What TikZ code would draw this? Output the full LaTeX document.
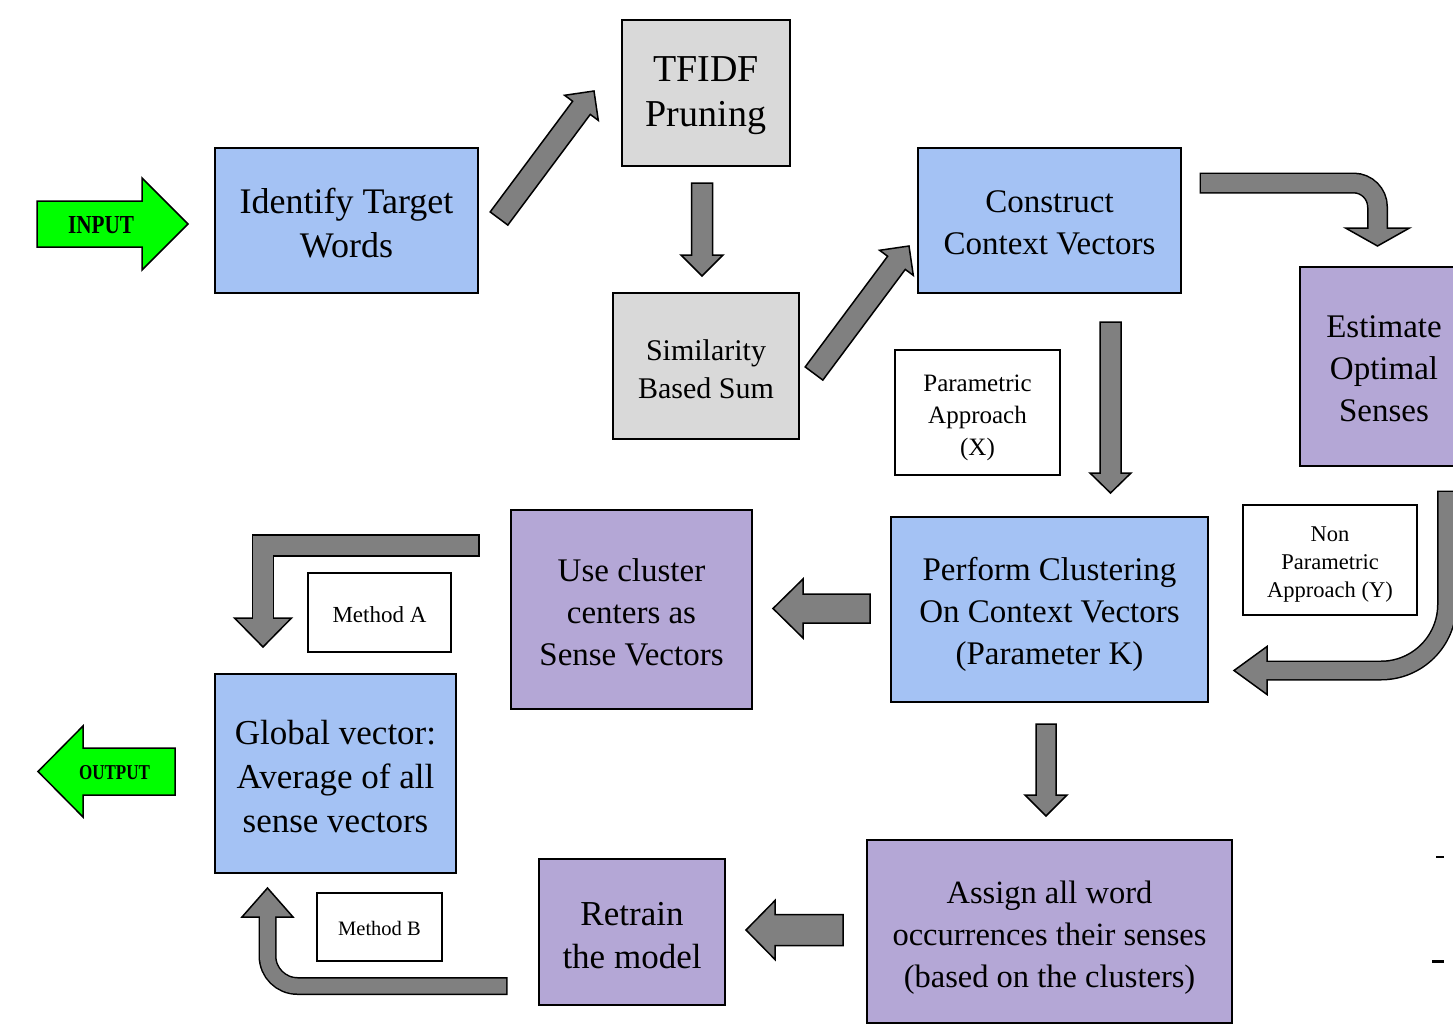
\documentclass[tikz,border=0pt]{standalone}
\usepackage{fontspec}
\usepackage{graphicx}
\setmainfont{Liberation Serif}
\usetikzlibrary{calc}
\definecolor{boxblue}{RGB}{164,194,244}
\definecolor{boxpurple}{RGB}{180,167,214}
\definecolor{boxgray}{RGB}{217,217,217}
\definecolor{arrgray}{RGB}{128,128,128}
\definecolor{arrgreen}{RGB}{0,255,0}
\newcommand{\fsz}[2]{\fontsize{#1}{#2}\selectfont}
% #1 style, #2 from, #3 to, #4 half body, #5 half head, #6 head length
\newcommand{\blockarr}[6]{%
  \coordinate (hb-#2) at ($(#3)!#6!(#2)$);
  \filldraw[#1] ($(#2)!#4!90:(#3)$) -- ($(hb-#2)!#4!90:(#3)$) -- ($(hb-#2)!#5!90:(#3)$) -- (#3)
     -- ($(hb-#2)!#5!-90:(#3)$) -- ($(hb-#2)!#4!-90:(#3)$) -- ($(#2)!#4!-90:(#3)$) -- cycle;
}
% name, position, width, height, fill, font, text shift, text
\newcommand{\tbox}[8]{%
  \node[box, fill=#5, minimum width=#3, minimum height=#4] (#1) at (#2) {};
  \node[txt, font=#6] (#1-text) at ([yshift=#7]#1.center) {#8};
}
\tikzset{
  box/.style={draw=black, line width=1.5pt, rectangle, inner sep=0pt},
  txt/.style={inner sep=0pt, align=center},
  barrow/.style={fill=arrgray, draw=black, line width=1.5pt, line join=miter},
  garrow/.style={fill=arrgreen, draw=black, line width=1.5pt, line join=miter},
}
\begin{document}
\begin{tikzpicture}[x=1pt,y=-1pt]
\useasboundingbox (0,0) rectangle (1453,1025);
\clip (0,0) rectangle (1453,1025);
\fill[white] (0,0) rectangle (1453,1025);

% boxes
\tbox{ident}{346.5,220.5}{263pt}{145pt}{boxblue}{\fsz{36}{44}}{-3pt}{Identify Target\\Words}
\tbox{tfidf}{706,93}{168pt}{146pt}{boxgray}{\fsz{38}{45}}{-3pt}{TFIDF\\Pruning}
\tbox{simil}{706,366}{186pt}{146pt}{boxgray}{\fsz{30}{38}}{-3pt}{Similarity\\Based Sum}
\tbox{constr}{1049.5,220.5}{263pt}{145pt}{boxblue}{\fsz{33}{42}}{-2pt}{Construct\\Context Vectors}
\tbox{estim}{1384,366.5}{168pt}{199pt}{boxpurple}{\fsz{33}{42}}{-2pt}{Estimate\\Optimal\\Senses}
\tbox{param}{977.5,412.5}{165pt}{125pt}{white}{\fsz{25}{32}}{-5pt}{Parametric\\Approach\\(X)}
\tbox{nonparam}{1330,560}{174pt}{110pt}{white}{\fsz{22.5}{28}}{-5pt}{Non\\Parametric\\Approach (Y)}
\tbox{perform}{1049.5,609.5}{317pt}{185pt}{boxblue}{\fsz{33}{42}}{-5pt}{Perform Clustering\\On Context Vectors\\(Parameter K)}
\tbox{usecl}{631.5,609.5}{241pt}{199pt}{boxpurple}{\fsz{33}{42}}{-2.5pt}{Use cluster\\centers as\\Sense Vectors}
\tbox{metha}{379.5,612.5}{143pt}{79pt}{white}{\fsz{23}{28}}{-2pt}{Method A}
\tbox{global}{335.5,773.5}{241pt}{199pt}{boxblue}{\fsz{35}{44}}{-3pt}{Global vector:\\Average of all\\sense vectors}
\tbox{assign}{1049.5,931.5}{365pt}{183pt}{boxpurple}{\fsz{32.5}{42}}{-6pt}{Assign all word\\occurrences their senses\\(based on the clusters)}
\tbox{retrain}{632,932}{186pt}{146pt}{boxpurple}{\fsz{35}{43}}{-3.5pt}{Retrain\\the model}
\tbox{methb}{379.5,927}{125pt}{68pt}{white}{\fsz{20.5}{26}}{-1pt}{Method B}

% straight block arrows
\coordinate (a1) at (499,218.5);   \coordinate (a1e) at (594,91);
\coordinate (a2) at (814,373.5);   \coordinate (a2e) at (909,246);
\coordinate (a3) at (702,183);     \coordinate (a3e) at (702,276);
\coordinate (a4) at (1110.5,322);  \coordinate (a4e) at (1110.5,493);
\coordinate (a5) at (870,608.5);   \coordinate (a5e) at (773,608.5);
\coordinate (a6) at (1046,724);    \coordinate (a6e) at (1046,816);
\coordinate (a7) at (843,930);     \coordinate (a7e) at (746,930);
\coordinate (ain) at (37,224);     \coordinate (aine) at (188,224);
\coordinate (aout) at (175,771.5); \coordinate (aoute) at (38,771.5);
\blockarr{barrow}{a1}{a1e}{11pt}{21pt}{21pt}
\blockarr{barrow}{a2}{a2e}{11pt}{21pt}{21pt}
\blockarr{barrow}{a3}{a3e}{10.5pt}{21pt}{21pt}
\blockarr{barrow}{a4}{a4e}{10.5pt}{20.5pt}{20pt}
\blockarr{barrow}{a5}{a5e}{14.5pt}{29.5pt}{30pt}
\blockarr{barrow}{a6}{a6e}{10pt}{21pt}{21pt}
\blockarr{barrow}{a7}{a7e}{15.5pt}{29.5pt}{29pt}
\blockarr{garrow}{ain}{aine}{23pt}{46pt}{46pt}
\blockarr{garrow}{aout}{aoute}{23.5pt}{45.5pt}{45pt}
\node[font=\fsz{24}{28}\bfseries, inner sep=0pt] (inlabel) at (101,225) {\resizebox{66pt}{17pt}{INPUT}};
\node[font=\fsz{24}{28}\bfseries, inner sep=0pt] (outlabel) at (114.5,773) {\resizebox{71pt}{14pt}{OUTPUT}};

% curved arrow: construct -> estimate
\coordinate (c5t) at (1201,183); \coordinate (c5k) at (1377.5,183);
\coordinate (c5h) at (1377.5,228); \coordinate (c5tip) at (1377.5,246);
\draw[line width=21pt, black, rounded corners=24pt] ($(c5t)+(-1.5,0)$) -- (c5k) -- (c5h);
\filldraw[barrow] ($(c5h)+(-32,0)$) -- ($(c5h)+(32,0)$) -- (c5tip) -- cycle;
\draw[line width=18pt, arrgray, rounded corners=24pt] (c5t) -- (c5k) -- ($(c5h)+(0,2)$);

% curved arrow: estimate -> perform
\coordinate (c6t) at (1447,492); \coordinate (c6k) at (1447,670.5);
\coordinate (c6h) at (1267,670.5); \coordinate (c6tip) at (1234,670.5);
\draw[line width=20pt, black, rounded corners=66pt] ($(c6t)+(0,-1.5)$) -- (c6k) -- (c6h);
\filldraw[barrow] ($(c6h)+(0,-24)$) -- ($(c6h)+(0,24)$) -- (c6tip) -- cycle;
\draw[line width=17pt, arrgray, rounded corners=66pt] (c6t) -- (c6k) -- ($(c6h)+(-2,0)$);

% L arrow: top -> global (Method A)
\coordinate (c8t) at (478,545.5); \coordinate (c8k) at (263,545.5);
\coordinate (c8h) at (263,618); \coordinate (c8tip) at (263,647);
\draw[line width=22.5pt, black, line join=miter] ($(c8t)+(1.5,0)$) -- (c8k) -- (c8h);
\filldraw[barrow] ($(c8h)+(-28.5,0)$) -- ($(c8h)+(28.5,0)$) -- (c8tip) -- cycle;
\draw[line width=19.5pt, arrgray, line join=miter] (c8t) -- (c8k) -- ($(c8h)+(0,2)$);

% curved arrow: retrain -> global (Method B)
\coordinate (c11t) at (506,986); \coordinate (c11k) at (267.5,986);
\coordinate (c11h) at (267.5,917); \coordinate (c11tip) at (267.5,888);
\draw[line width=18pt, black, rounded corners=30pt] ($(c11t)+(1.5,0)$) -- (c11k) -- (c11h);
\filldraw[barrow] ($(c11h)+(-25.5,0)$) -- ($(c11h)+(25.5,0)$) -- (c11tip) -- cycle;
\draw[line width=15pt, arrgray, rounded corners=30pt] (c11t) -- (c11k) -- ($(c11h)+(0,-2)$);

% small dashes at right edge
\draw[line width=2pt] (1436,857) -- (1444,857);
\draw[line width=3pt] (1432,961) -- (1444,961);
\end{tikzpicture}
\end{document}
